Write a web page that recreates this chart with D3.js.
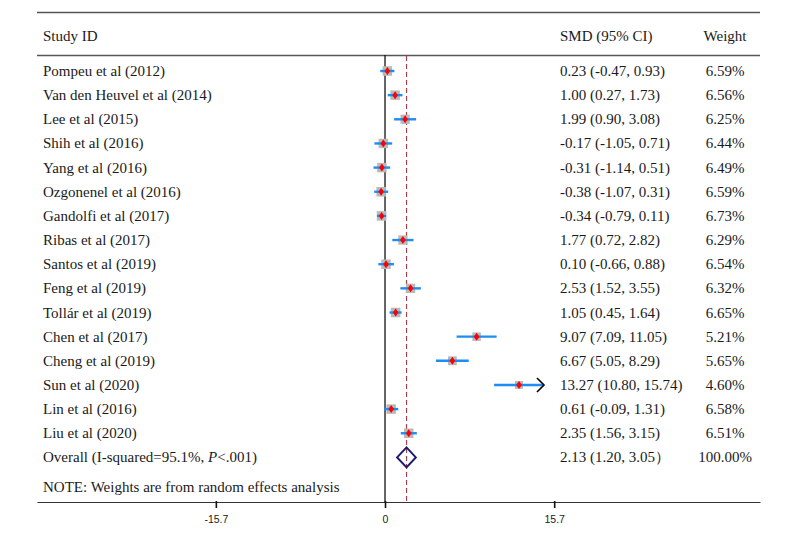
<!DOCTYPE html>
<html><head><meta charset="utf-8">
<script src="https://cdn.jsdelivr.net/npm/d3@7"></script>
<style>body{margin:0;background:#fff}</style>
</head><body>
<script>
const studies = ["Pompeu et al (2012)","Van den Heuvel et al (2014)","Lee et al (2015)","Shih et al (2016)","Yang et al (2016)","Ozgonenel et al (2016)","Gandolfi et al (2017)","Ribas et al (2017)","Santos et al (2019)","Feng et al (2019)","Tollár et al (2019)","Chen et al (2017)","Cheng et al (2019)","Sun et al (2020)","Lin et al (2016)","Liu et al (2020)"];
const smd = [0.23,1.00,1.99,-0.17,-0.31,-0.38,-0.34,1.77,0.10,2.53,1.05,9.07,6.67,13.27,0.61,2.35];
const lower = [-0.47,0.27,0.90,-1.05,-1.14,-1.07,-0.79,0.72,-0.66,1.52,0.45,7.09,5.05,10.80,-0.09,1.56];
const upper = [0.93,1.73,3.08,0.71,0.51,0.31,0.11,2.82,0.88,3.55,1.64,11.05,8.29,15.74,1.31,3.15];
const weights = [6.59,6.56,6.25,6.44,6.49,6.59,6.73,6.29,6.54,6.32,6.65,5.21,5.65,4.60,6.58,6.51];
const ciText = ["0.23 (-0.47, 0.93)","1.00 (0.27, 1.73)","1.99 (0.90, 3.08)","-0.17 (-1.05, 0.71)","-0.31 (-1.14, 0.51)","-0.38 (-1.07, 0.31)","-0.34 (-0.79, 0.11)","1.77 (0.72, 2.82)","0.10 (-0.66, 0.88)","2.53 (1.52, 3.55)","1.05 (0.45, 1.64)","9.07 (7.09, 11.05)","6.67 (5.05, 8.29)","13.27 (10.80, 15.74)","0.61 (-0.09, 1.31)","2.35 (1.56, 3.15)"];
const weightText = ["6.59%","6.56%","6.25%","6.44%","6.49%","6.59%","6.73%","6.29%","6.54%","6.32%","6.65%","5.21%","5.65%","4.60%","6.58%","6.51%"];
const overall = {label:"Overall (I-squared=95.1%, ", p:"P", rest:"<.001)", est:2.13, lo:1.20, hi:3.05, ci:"2.13 (1.20, 3.05\uFF09", w:"100.00%"};
const note = "NOTE: Weights are from random effects analysis";
const headers = ["Study ID","SMD (95% CI)","Weight"];
const tickValues = [-16.75, 0, 16.75];
const tickLabels = ["-15.7","0","15.7"];
const clipMax = 15.7;

const W = 800, H = 540;
const svg = d3.select("body").append("svg").attr("width",W).attr("height",H);
const x = d3.scaleLinear().domain([-34.46, 37.13]).range([37, 760]);
const y = d3.scaleLinear().domain([0, 1]).range([71, 95.15]);
const serif = "'Liberation Serif','Times New Roman',serif";
const txtCol = "#1a1a1a";

// frame lines
svg.append("line").attr("x1",37).attr("x2",760).attr("y1",12.5).attr("y2",12.5).attr("stroke","#555").attr("stroke-width",1.5);
svg.append("line").attr("x1",37).attr("x2",760).attr("y1",55.5).attr("y2",55.5).attr("stroke","#555").attr("stroke-width",1.5);

// headers
const hx = [43, 560, 725], ha = ["start","start","middle"];
headers.forEach((h,i)=>svg.append("text").attr("x",hx[i]).attr("y",41).attr("text-anchor",ha[i])
  .attr("font-family",serif).attr("font-size",15).attr("fill",txtCol).text(h));

// axis
const axis = d3.axisBottom(x).tickValues(tickValues).tickFormat((d,i)=>tickLabels[i]).tickSize(6).tickSizeOuter(0);
const ag = svg.append("g").attr("transform","translate(0,502)").call(axis);
ag.select(".domain").attr("stroke","#333").attr("stroke-width",1.2);
ag.selectAll(".tick line").attr("stroke","#111").attr("stroke-width",1.6).attr("y1",-1);
ag.selectAll(".tick text").attr("font-family","'Liberation Sans',Arial,sans-serif").attr("font-size",10.5).attr("fill",txtCol).attr("dy","0.9em").attr("y",12);

// zero line
svg.append("line").attr("x1",x(0)).attr("x2",x(0)).attr("y1",55).attr("y2",502).attr("stroke","#111").attr("stroke-width",1.3);
// overall dashed line
svg.append("line").attr("x1",x(overall.est)).attr("x2",x(overall.est)).attr("y1",56).attr("y2",502)
  .attr("stroke","#a8424f").attr("stroke-width",1.2).attr("stroke-dasharray","5,3");

// rows
const rows = svg.append("g");
studies.forEach((s,i)=>{
  const yc = y(i);
  rows.append("text").attr("x",43).attr("y",yc+5).attr("font-family",serif).attr("font-size",15).attr("fill",txtCol).text(s);
  rows.append("text").attr("x",560).attr("y",yc+5).attr("font-family",serif).attr("font-size",15).attr("fill",txtCol).text(ciText[i]);
  rows.append("text").attr("x",725).attr("y",yc+5).attr("text-anchor","middle").attr("font-family",serif).attr("font-size",15).attr("fill",txtCol).text(weightText[i]);
  const side = 3.7*Math.sqrt(weights[i]);
  rows.append("rect").attr("x",x(smd[i])-side/2).attr("y",yc-side/2).attr("width",side).attr("height",side).attr("fill","#b9b9b9");
  const hiV = Math.min(upper[i], clipMax+0.04);
  rows.append("line").attr("x1",x(lower[i])).attr("x2",x(hiV)).attr("y1",yc).attr("y2",yc).attr("stroke","#1e8cf0").attr("stroke-width",2.4);
  if (upper[i] >= clipMax) {
    const ax = x(hiV);
    rows.append("path").attr("d",`M${ax-7},${yc-7}L${ax},${yc}L${ax-7},${yc+7}`).attr("fill","none").attr("stroke","#000").attr("stroke-width",1.6);
  }
  const cx = x(smd[i]);
  rows.append("path").attr("d",`M${cx},${yc-4}L${cx+2.8},${yc}L${cx},${yc+4}L${cx-2.8},${yc}Z`).attr("fill","#ff0000");
});

// overall
const yo = y(studies.length);
const ot = svg.append("text").attr("x",43).attr("y",yo+5).attr("font-family",serif).attr("font-size",15).attr("fill",txtCol);
ot.append("tspan").text(overall.label);
ot.append("tspan").attr("font-style","italic").text(overall.p);
ot.append("tspan").text(overall.rest);
svg.append("text").attr("x",560).attr("y",yo+5).attr("font-family",serif).attr("font-size",15).attr("fill",txtCol).text(overall.ci);
svg.append("text").attr("x",725).attr("y",yo+5).attr("text-anchor","middle").attr("font-family",serif).attr("font-size",15).attr("fill",txtCol).text(overall.w);
svg.append("path").attr("d",`M${x(overall.lo)},${yo}L${x(overall.est)},${yo-10}L${x(overall.hi)},${yo}L${x(overall.est)},${yo+10}Z`)
  .attr("fill","none").attr("stroke","#1c1a6e").attr("stroke-width",2);

// note
svg.append("text").attr("x",43).attr("y",492).attr("font-family",serif).attr("font-size",15).attr("fill",txtCol).text(note);
</script>
</body></html>
